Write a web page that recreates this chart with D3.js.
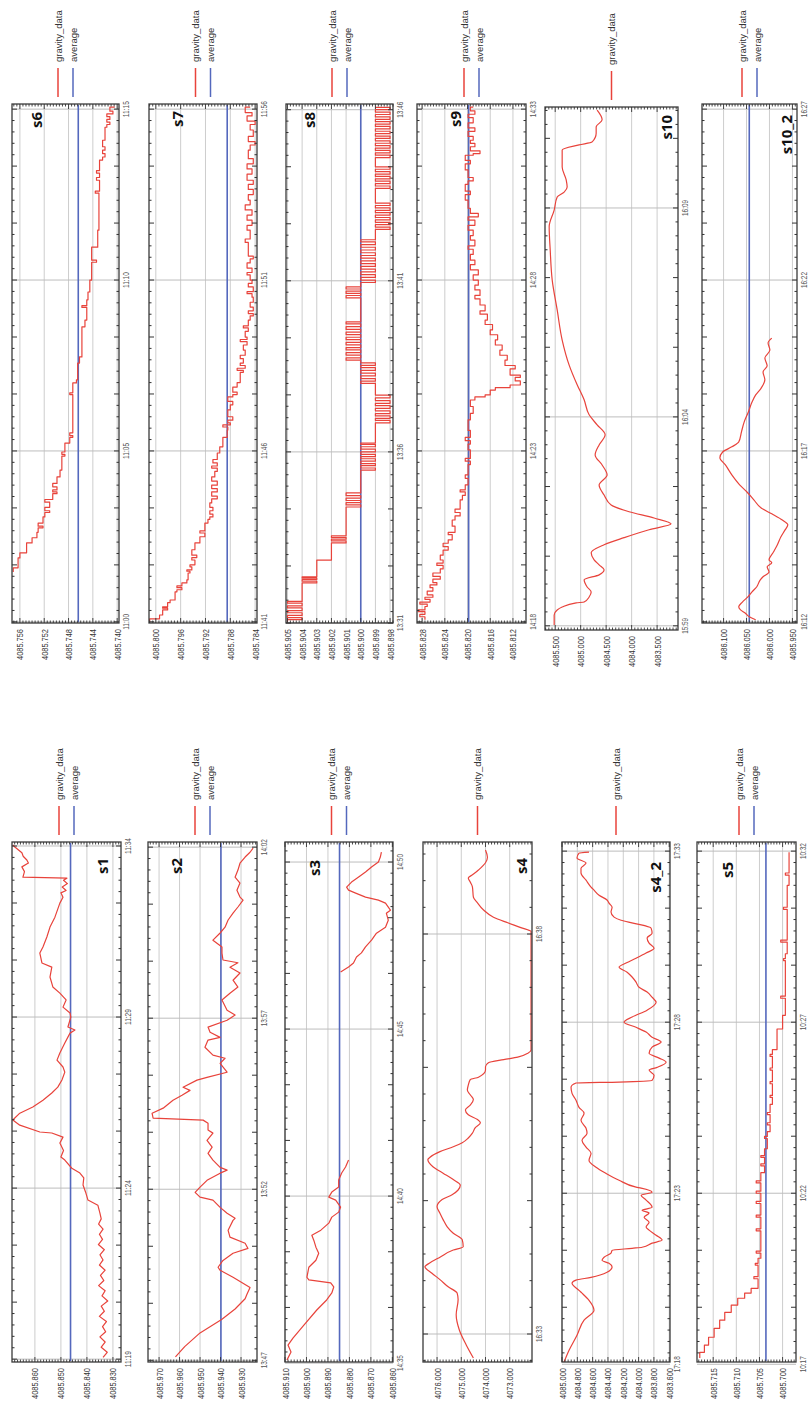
<!DOCTYPE html>
<html>
<head>
<meta charset="utf-8">
<script src="https://cdn.jsdelivr.net/npm/d3@7"></script>
<style>
  body { margin: 0; background: #fff; }
  svg { display: block; }
</style>
</head>
<body>
<div id="chart"></div>
<script>
// gravity readings per station: [minutes after the first time label, value]

const s1Times = ['11:19', '11:24', '11:29', '11:34'];
const s1Span = ['11:18:55', '11:34:07'];
const s1Ticks = [4085.860, 4085.850, 4085.840, 4085.830];
const s1Range = [4085.8269, 4085.8688];
const s1Average = 4085.8463;
const s1Gravity = [[0.05,4085.8338],[0.2,4085.8322],[0.35,4085.8345],[0.5,4085.8330],[0.65,4085.8350],[0.8,4085.8328],[0.95,4085.8340],[1.1,4085.8325],[1.25,4085.8352],[1.4,4085.8333],[1.55,4085.8345],[1.7,4085.8320],[1.85,4085.8342],[2.0,4085.8330],[2.15,4085.8355],[2.3,4085.8335],[2.45,4085.8348],[2.6,4085.8330],[2.75,4085.8352],[2.9,4085.8338],[3.05,4085.8350],[3.2,4085.8333],[3.35,4085.8356],[3.5,4085.8340],[3.65,4085.8352],[3.8,4085.8338],[3.95,4085.8355],[4.1,4085.8345],[4.27,4085.8350],[4.5,4085.8358],[4.65,4085.8396],[4.88,4085.8405],[5.09,4085.8415],[5.3,4085.8412],[5.44,4085.8427],[5.58,4085.8458],[5.82,4085.8485],[5.91,4085.8500],[6.1,4085.8490],[6.32,4085.8504],[6.49,4085.8492],[6.61,4085.8535],[6.64,4085.8581],[6.84,4085.8658],[6.99,4085.8685],[7.19,4085.8658],[7.37,4085.8608],[7.57,4085.8569],[7.78,4085.8535],[7.95,4085.8512],[8.16,4085.8496],[8.39,4085.8485],[8.54,4085.8492],[8.74,4085.8515],[8.95,4085.8504],[9.24,4085.8485],[9.53,4085.8465],[9.62,4085.8446],[9.71,4085.8473],[10.0,4085.8462],[10.12,4085.8465],[10.29,4085.8492],[10.5,4085.8480],[10.7,4085.8504],[10.88,4085.8531],[11.17,4085.8542],[11.46,4085.8535],[11.58,4085.8573],[11.87,4085.8581],[12.05,4085.8569],[12.34,4085.8554],[12.63,4085.8542],[12.92,4085.8523],[13.33,4085.8504],[13.5,4085.8492],[13.63,4085.8500],[13.7,4085.8480],[13.8,4085.8495],[13.9,4085.8475],[14.0,4085.8490],[14.06,4085.8477],[14.09,4085.8646],[14.25,4085.8640],[14.39,4085.8650],[14.5,4085.8625],[14.59,4085.8631],[14.7,4085.8645],[14.8,4085.8650],[14.97,4085.8677],[15.03,4085.8685]];

const s2Times = ['13:47', '13:52', '13:57', '14:02'];
const s2Span = ['13:46:57', '14:02:09'];
const s2Ticks = [4085.970, 4085.960, 4085.950, 4085.940, 4085.930];
const s2Range = [4085.9222, 4085.9754];
const s2Average = 4085.9398;
const s2Gravity = [[0.1,4085.9620],[0.4,4085.9575],[0.8,4085.9500],[1.2,4085.9393],[1.5,4085.9329],[1.8,4085.9280],[1.93,4085.9271],[2.13,4085.9256],[2.43,4085.9339],[2.63,4085.9402],[2.72,4085.9412],[2.92,4085.9388],[3.13,4085.9339],[3.27,4085.9266],[3.42,4085.9280],[3.60,4085.9354],[3.80,4085.9363],[4.09,4085.9339],[4.15,4085.9329],[4.30,4085.9368],[4.47,4085.9402],[4.68,4085.9437],[4.77,4085.9500],[4.91,4085.9524],[5.06,4085.9500],[5.26,4085.9466],[5.47,4085.9402],[5.56,4085.9368],[5.64,4085.9402],[5.85,4085.9437],[6.05,4085.9461],[6.23,4085.9441],[6.43,4085.9466],[6.64,4085.9437],[6.73,4085.9461],[6.93,4085.9461],[7.02,4085.9485],[7.08,4085.9729],[7.22,4085.9734],[7.37,4085.9680],[7.60,4085.9632],[7.75,4085.9588],[7.89,4085.9549],[7.98,4085.9583],[8.19,4085.9515],[8.27,4085.9466],[8.42,4085.9368],[8.68,4085.9402],[8.83,4085.9378],[8.92,4085.9437],[9.15,4085.9476],[9.36,4085.9461],[9.44,4085.9402],[9.59,4085.9451],[9.74,4085.9461],[9.94,4085.9368],[10.09,4085.9329],[10.23,4085.9368],[10.53,4085.9393],[10.73,4085.9354],[10.91,4085.9315],[11.11,4085.9339],[11.32,4085.9305],[11.49,4085.9354],[11.62,4085.9315],[11.70,4085.9388],[11.90,4085.9393],[12.08,4085.9393],[12.28,4085.9437],[12.49,4085.9402],[12.66,4085.9378],[12.87,4085.9363],[13.07,4085.9339],[13.25,4085.9315],[13.45,4085.9290],[13.54,4085.9305],[13.74,4085.9320],[13.95,4085.9305],[14.12,4085.9329],[14.33,4085.9315],[14.53,4085.9305],[14.71,4085.9280],[14.85,4085.9256],[14.97,4085.9241]];

const s3Times = ['14:35', '14:40', '14:45', '14:50'];
const s3Span = ['14:35:02', '14:50:36'];
const s3Ticks = [4085.910, 4085.900, 4085.890, 4085.880, 4085.870, 4085.860];
const s3Range = [4085.8597, 4085.9100];
const s3Average = 4085.8846;
const s3Gravity = [[0.09,4085.9091],[0.33,4085.9072],[0.54,4085.9086],[0.75,4085.9063],[1.14,4085.9012],[1.59,4085.8952],[1.89,4085.8906],[2.10,4085.8882],[2.28,4085.8873],[2.40,4085.8887],[2.49,4085.8989],[2.57,4085.8998],[2.87,4085.8989],[3.08,4085.8956],[3.29,4085.8943],[3.47,4085.8956],[3.68,4085.8966],[3.83,4085.8975],[3.98,4085.8933],[4.19,4085.8896],[4.37,4085.8882],[4.52,4085.8850],[4.67,4085.8841],[4.88,4085.8864],[4.97,4085.8896],[5.12,4085.8882],[5.27,4085.8850],[5.48,4085.8850],[5.69,4085.8836],[5.87,4085.8818],[6.08,4085.8804],[6.1,null],[11.71,4085.8841],[11.86,4085.8804],[11.98,4085.8781],[12.16,4085.8767],[12.28,4085.8744],[12.46,4085.8725],[12.66,4085.8697],[12.87,4085.8674],[13.05,4085.8632],[13.26,4085.8619],[13.47,4085.8628],[13.56,4085.8609],[13.77,4085.8632],[13.86,4085.8665],[13.95,4085.8725],[14.07,4085.8771],[14.16,4085.8804],[14.25,4085.8813],[14.40,4085.8790],[14.55,4085.8757],[14.70,4085.8725],[14.85,4085.8697],[15.0,4085.8665],[15.15,4085.8656],[15.30,4085.8651]];

const s4Times = ['16:33', '16:38'];
const s4Span = ['16:32:39', '16:39:09'];
const s4Ticks = [4076, 4075, 4074, 4073];
const s4Range = [4072.08, 4076.58];
const s4Average = null;
const s4Gravity = [[-0.30,4074.50],[-0.14,4074.79],[0.05,4075.08],[0.24,4075.21],[0.43,4075.13],[0.51,4075.17],[0.59,4075.54],[0.68,4075.88],[0.76,4076.21],[0.84,4076.50],[0.89,4076.29],[0.96,4075.88],[1.05,4075.33],[1.09,4074.92],[1.18,4074.96],[1.26,4075.33],[1.34,4075.58],[1.43,4075.75],[1.51,4075.88],[1.59,4076.00],[1.68,4075.79],[1.74,4075.38],[1.80,4075.13],[1.86,4075.04],[1.93,4075.33],[2.01,4075.75],[2.09,4076.17],[2.18,4076.38],[2.21,4076.29],[2.28,4075.88],[2.34,4075.33],[2.39,4074.96],[2.45,4074.71],[2.51,4074.54],[2.58,4074.42],[2.64,4074.21],[2.68,4074.33],[2.74,4074.71],[2.80,4074.83],[2.86,4074.63],[2.93,4074.50],[2.99,4074.63],[3.05,4074.75],[3.11,4074.71],[3.18,4074.63],[3.21,4074.29],[3.30,4074.00],[3.34,4074.00],[3.39,4073.88],[3.43,4073.25],[3.46,4072.67],[3.51,4072.25],[3.55,4072.12],[5.03,4072.12],[5.08,4072.54],[5.14,4073.08],[5.21,4073.67],[5.30,4074.08],[5.39,4074.33],[5.46,4074.50],[5.59,4074.54],[5.65,4074.63],[5.70,4074.71],[5.74,4074.54],[5.80,4074.29],[5.89,4074.00],[5.96,4073.92],[6.05,4074.00]];

const s4_2Times = ['17:18', '17:23', '17:28', '17:33'];
const s4_2Span = ['17:18:04', '17:33:16'];
const s4_2Ticks = [4085.0, 4084.8, 4084.6, 4084.4, 4084.2, 4084.0, 4083.8, 4083.6];
const s4_2Range = [4083.59, 4085.0];
const s4_2Average = null;
const s4_2Gravity = [[0.06,4084.974],[0.41,4084.908],[0.85,4084.804],[1.29,4084.712],[1.58,4084.582],[1.87,4084.647],[2.08,4084.739],[2.16,4084.778],[2.37,4084.869],[2.46,4084.817],[2.54,4084.621],[2.69,4084.412],[2.84,4084.346],[2.95,4084.386],[3.04,4084.477],[3.13,4084.451],[3.25,4084.360],[3.33,4084.346],[3.39,4084.085],[3.42,4083.954],[3.54,4083.824],[3.63,4083.693],[3.77,4083.771],[3.92,4083.863],[4.01,4083.902],[4.15,4083.863],[4.30,4083.928],[4.42,4083.863],[4.50,4083.954],[4.59,4083.824],[4.80,4083.902],[4.94,4083.967],[5.03,4083.824],[5.15,4083.967],[5.18,4084.033],[5.38,4084.255],[5.58,4084.425],[5.76,4084.556],[5.96,4084.647],[6.17,4084.621],[6.35,4084.686],[6.55,4084.739],[6.75,4084.673],[6.90,4084.686],[7.13,4084.752],[7.34,4084.712],[7.51,4084.778],[7.72,4084.817],[7.92,4084.869],[8.10,4084.882],[8.22,4084.817],[8.25,4084.255],[8.30,4083.824],[8.45,4083.798],[8.60,4083.863],[8.68,4083.758],[8.83,4083.641],[8.95,4083.732],[9.09,4083.863],[9.27,4083.824],[9.42,4083.706],[9.56,4083.824],[9.71,4083.902],[9.85,4084.033],[10.0,4084.190],[10.15,4084.085],[10.35,4083.889],[10.58,4083.771],[10.73,4083.824],[10.88,4083.889],[11.02,4083.994],[11.17,4084.033],[11.32,4084.085],[11.46,4084.150],[11.61,4084.255],[11.73,4084.164],[11.87,4084.033],[12.02,4083.902],[12.16,4083.798],[12.31,4083.863],[12.46,4083.889],[12.60,4083.824],[12.75,4083.837],[12.89,4084.059],[12.98,4084.229],[13.07,4084.320],[13.22,4084.360],[13.36,4084.346],[13.48,4084.386],[13.57,4084.412],[13.71,4084.516],[13.86,4084.582],[13.95,4084.621],[14.15,4084.686],[14.36,4084.752],[14.50,4084.752],[14.65,4084.686],[14.80,4084.804],[14.94,4084.778],[14.97,4084.647]];

const s5Times = ['10:17', '10:22', '10:27', '10:32'];
const s5Span = ['10:17:04', '10:32:16'];
const s5Ticks = [4085.715, 4085.710, 4085.705, 4085.700];
const s5Range = [4085.6971, 4085.7185];
const s5Average = 4085.7036;
const s5Gravity = [[0.18,4085.7179],[0.35,4085.7169],[0.56,4085.7160],[0.79,4085.7148],[1.05,4085.7136],[1.29,4085.7125],[1.52,4085.7111],[1.73,4085.7097],[1.93,4085.7082],[2.08,4085.7068],[2.22,4085.7053],[2.50,4085.7062],[2.56,4085.7053],[2.90,4085.7059],[2.95,4085.7053],[3.10,4085.7047],[3.25,4085.7057],[3.31,4085.7047],[3.90,4085.7057],[3.96,4085.7047],[4.30,4085.7057],[4.36,4085.7047],[4.70,4085.7057],[4.76,4085.7047],[5.00,4085.7057],[5.06,4085.7047],[5.30,4085.7057],[5.36,4085.7047],[5.60,4085.7039],[5.80,4085.7047],[5.86,4085.7039],[6.05,4085.7047],[6.10,4085.7039],[6.30,4085.7033],[6.60,4085.7039],[6.66,4085.7033],[6.80,4085.7027],[7.00,4085.7033],[7.06,4085.7027],[7.30,4085.7033],[7.36,4085.7027],[7.60,4085.7022],[7.80,4085.7027],[7.86,4085.7022],[8.20,4085.7027],[8.26,4085.7022],[8.60,4085.7027],[8.66,4085.7022],[9.00,4085.7027],[9.06,4085.7022],[9.20,4085.7012],[9.80,4085.7000],[10.20,4085.6994],[10.70,4085.7004],[10.76,4085.6994],[11.80,4085.6998],[11.86,4085.6994],[12.00,4085.6990],[12.34,4085.7004],[12.40,4085.6990],[13.30,4085.6998],[13.36,4085.6990],[14.00,4085.6986],[14.30,4085.6994],[14.36,4085.6986],[14.97,4085.6986]];

const s6Times = ['11:00', '11:05', '11:10', '11:15'];
const s6Span = ['10:59:58', '11:15:09'];
const s6Ticks = [4085.756, 4085.752, 4085.748, 4085.744, 4085.740];
const s6Range = [4085.7397, 4085.7573];
const s6Average = 4085.7464;
const s6Gravity = [[1.46,4085.7571],[1.58,4085.7563],[1.87,4085.7560],[2.02,4085.7549],[2.31,4085.7540],[2.46,4085.7532],[2.62,4085.7530],[2.75,4085.7522],[2.80,4085.7530],[2.89,4085.7522],[3.07,4085.7519],[3.20,4085.7511],[3.25,4085.7519],[3.35,4085.7511],[3.50,4085.7519],[3.58,4085.7506],[3.75,4085.7499],[3.80,4085.7506],[3.86,4085.7499],[3.95,4085.7506],[4.05,4085.7499],[4.24,4085.7494],[4.44,4085.7491],[4.85,4085.7486],[4.90,4085.7491],[4.97,4085.7486],[5.23,4085.7478],[5.40,4085.7473],[5.45,4085.7478],[5.53,4085.7473],[6.65,4085.7478],[6.70,4085.7473],[6.99,4085.7467],[7.08,4085.7465],[7.57,4085.7462],[7.75,4085.7458],[8.63,4085.7453],[8.83,4085.7450],[9.20,4085.7458],[9.25,4085.7450],[9.42,4085.7448],[9.65,4085.7445],[10.0,4085.7442],[10.52,4085.7434],[10.58,4085.7442],[10.96,4085.7432],[11.46,4085.7430],[12.54,4085.7436],[12.60,4085.7429],[12.92,4085.7434],[13.0,4085.7429],[13.13,4085.7434],[13.20,4085.7429],[13.51,4085.7424],[13.60,4085.7420],[13.70,4085.7424],[13.80,4085.7420],[13.90,4085.7424],[14.09,4085.7420],[14.47,4085.7417],[14.55,4085.7412],[14.62,4085.7417],[14.70,4085.7412],[14.78,4085.7417],[14.86,4085.7407],[14.94,4085.7412],[15.06,4085.7404]];

const s7Times = ['11:41', '11:46', '11:51', '11:56'];
const s7Span = ['11:40:58', '11:56:09'];
const s7Ticks = [4085.800, 4085.796, 4085.792, 4085.788, 4085.784];
const s7Range = [4085.7837, 4085.8011];
const s7Average = 4085.7885;
const s7Gravity = [[0.0,4085.8010],[0.09,4085.7994],[0.20,4085.7989],[0.35,4085.7981],[0.40,4085.7989],[0.44,4085.7981],[0.56,4085.7977],[0.64,4085.7969],[0.88,4085.7966],[0.94,4085.7958],[1.0,4085.7966],[1.05,4085.7958],[1.14,4085.7950],[1.23,4085.7948],[1.43,4085.7945],[1.48,4085.7950],[1.52,4085.7942],[1.61,4085.7945],[1.67,4085.7937],[1.81,4085.7942],[1.88,4085.7934],[1.95,4085.7942],[2.11,4085.7937],[2.31,4085.7929],[2.49,4085.7921],[2.60,4085.7929],[2.66,4085.7921],[2.89,4085.7916],[3.0,4085.7913],[3.07,4085.7908],[3.15,4085.7913],[3.25,4085.7908],[3.35,4085.7913],[3.48,4085.7910],[3.60,4085.7901],[3.68,4085.7910],[3.80,4085.7901],[3.90,4085.7910],[4.0,4085.7901],[4.12,4085.7910],[4.24,4085.7905],[4.40,4085.7901],[4.50,4085.7910],[4.56,4085.7901],[4.65,4085.7908],[4.75,4085.7901],[4.94,4085.7897],[5.12,4085.7892],[5.40,4085.7885],[5.61,4085.7884],[5.70,4085.7892],[5.76,4085.7880],[5.82,4085.7884],[5.90,4085.7876],[6.0,4085.7884],[6.20,4085.7880],[6.35,4085.7876],[6.45,4085.7884],[6.58,4085.7876],[6.65,4085.7869],[6.72,4085.7876],[6.87,4085.7869],[7.0,4085.7864],[7.30,4085.7859],[7.36,4085.7869],[7.42,4085.7856],[7.50,4085.7864],[7.57,4085.7859],[7.70,4085.7864],[7.80,4085.7856],[7.95,4085.7859],[8.10,4085.7853],[8.20,4085.7864],[8.26,4085.7853],[8.33,4085.7856],[8.50,4085.7851],[8.60,4085.7859],[8.66,4085.7851],[8.83,4085.7848],[8.95,4085.7843],[9.02,4085.7851],[9.10,4085.7843],[9.21,4085.7848],[9.35,4085.7843],[9.50,4085.7845],[9.60,4085.7853],[9.66,4085.7843],[9.80,4085.7851],[9.90,4085.7845],[10.0,4085.7848],[10.15,4085.7853],[10.22,4085.7845],[10.35,4085.7853],[10.5,4085.7848],[10.62,4085.7843],[10.70,4085.7851],[11.1,4085.7856],[11.2,4085.7848],[11.46,4085.7853],[11.6,4085.7845],[11.75,4085.7853],[11.9,4085.7845],[12.05,4085.7856],[12.2,4085.7848],[12.34,4085.7851],[12.5,4085.7843],[12.65,4085.7851],[12.8,4085.7843],[12.92,4085.7853],[13.1,4085.7845],[13.25,4085.7853],[13.4,4085.7843],[13.55,4085.7851],[13.8,4085.7848],[13.95,4085.7840],[14.05,4085.7851],[14.2,4085.7843],[14.39,4085.7848],[14.55,4085.7840],[14.65,4085.7853],[14.8,4085.7845],[14.9,4085.7856],[15.06,4085.7848]];

const s8Times = ['13:31', '13:36', '13:41', '13:46'];
const s8Span = ['13:31:00', '13:46:10'];
const s8Ticks = [4085.905, 4085.904, 4085.903, 4085.902, 4085.901, 4085.900, 4085.899, 4085.898];
const s8Range = [4085.8978, 4085.9051];
const s8Average = 4085.900;
const s8Gravity = [[0.03,4085.905],[0.1,4085.904],[0.16,4085.905],[0.22,4085.904],[0.3,4085.905],[0.36,4085.904],[0.44,4085.905],[0.5,4085.904],[0.58,4085.905],[0.63,4085.904],[1.17,4085.903],[1.22,4085.904],[1.27,4085.903],[1.31,4085.904],[1.35,4085.903],[1.84,4085.902],[2.34,4085.901],[2.4,4085.902],[2.45,4085.901],[2.5,4085.902],[2.55,4085.901],[3.39,4085.900],[3.45,4085.901],[3.52,4085.900],[3.58,4085.901],[3.65,4085.900],[3.72,4085.901],[3.8,4085.900],[4.47,4085.899],[4.53,4085.900],[4.6,4085.899],[4.66,4085.900],[4.73,4085.899],[4.8,4085.900],[4.86,4085.899],[4.93,4085.900],[5.0,4085.899],[5.08,4085.900],[5.15,4085.899],[5.22,4085.900],[5.26,4085.899],[5.85,4085.898],[5.92,4085.899],[5.98,4085.898],[6.05,4085.899],[6.12,4085.898],[6.2,4085.899],[6.27,4085.898],[6.35,4085.899],[6.42,4085.898],[6.5,4085.899],[6.58,4085.898],[6.66,4085.899],[7.0,4085.900],[7.07,4085.899],[7.14,4085.900],[7.22,4085.899],[7.3,4085.900],[7.38,4085.899],[7.46,4085.900],[7.53,4085.899],[7.6,4085.900],[7.68,4085.901],[7.75,4085.900],[7.83,4085.901],[7.9,4085.900],[7.98,4085.901],[8.05,4085.900],[8.13,4085.901],[8.2,4085.900],[8.28,4085.901],[8.35,4085.900],[8.43,4085.901],[8.5,4085.900],[8.58,4085.901],[8.66,4085.900],[8.74,4085.901],[8.8,4085.900],[9.5,4085.901],[9.57,4085.900],[9.63,4085.901],[9.7,4085.900],[9.76,4085.901],[9.82,4085.900],[9.95,4085.899],[10.02,4085.900],[10.1,4085.899],[10.18,4085.900],[10.26,4085.899],[10.34,4085.900],[10.42,4085.899],[10.5,4085.900],[10.58,4085.899],[10.66,4085.900],[10.74,4085.899],[10.82,4085.900],[10.9,4085.899],[10.98,4085.900],[11.06,4085.899],[11.14,4085.900],[11.2,4085.899],[11.5,4085.898],[11.57,4085.899],[11.64,4085.898],[11.71,4085.899],[11.78,4085.898],[11.85,4085.899],[11.92,4085.898],[11.99,4085.899],[12.06,4085.898],[12.13,4085.899],[12.2,4085.898],[12.27,4085.899],[12.7,4085.898],[12.77,4085.899],[12.84,4085.898],[12.91,4085.899],[12.98,4085.898],[13.05,4085.899],[13.12,4085.898],[13.19,4085.899],[13.26,4085.898],[13.33,4085.899],[13.6,4085.898],[13.67,4085.899],[13.74,4085.898],[13.81,4085.899],[13.88,4085.898],[13.95,4085.899],[14.02,4085.898],[14.09,4085.899],[14.16,4085.898],[14.23,4085.899],[14.3,4085.898],[14.37,4085.899],[14.44,4085.898],[14.51,4085.899],[14.58,4085.898],[14.65,4085.899],[14.72,4085.898],[14.79,4085.899],[14.86,4085.898],[14.93,4085.899],[15.0,4085.898],[15.07,4085.899]];

const s9Times = ['14:18', '14:23', '14:28', '14:33'];
const s9Span = ['14:17:58', '14:33:09'];
const s9Ticks = [4085.828, 4085.824, 4085.820, 4085.816, 4085.812];
const s9Range = [4085.8097, 4085.8289];
const s9Average = 4085.8198;
const s9Gravity = [[0.06,4085.8275],[0.15,4085.8284],[0.22,4085.8275],[0.30,4085.8287],[0.35,4085.8275],[0.45,4085.8271],[0.52,4085.8284],[0.58,4085.8266],[0.66,4085.8275],[0.72,4085.8261],[0.79,4085.8271],[0.9,4085.8261],[1.0,4085.8266],[1.08,4085.8254],[1.15,4085.8261],[1.25,4085.8248],[1.33,4085.8261],[1.43,4085.8248],[1.55,4085.8243],[1.65,4085.8254],[1.72,4085.8243],[1.81,4085.8248],[1.95,4085.8243],[2.1,4085.8234],[2.2,4085.8243],[2.3,4085.8234],[2.4,4085.8227],[2.55,4085.8234],[2.62,4085.8222],[2.8,4085.8227],[2.98,4085.8222],[3.1,4085.8213],[3.2,4085.8222],[3.3,4085.8213],[3.57,4085.8209],[3.7,4085.8204],[3.8,4085.8213],[3.86,4085.8204],[4.01,4085.8199],[4.2,4085.8204],[4.3,4085.8199],[4.6,4085.8195],[4.7,4085.8204],[4.78,4085.8195],[5.03,4085.8199],[5.2,4085.8195],[5.3,4085.8204],[5.4,4085.8195],[5.6,4085.8199],[5.91,4085.8195],[6.1,4085.8190],[6.3,4085.8195],[6.49,4085.8187],[6.58,4085.8169],[6.64,4085.8160],[6.78,4085.8151],[6.85,4085.8125],[6.93,4085.8107],[7.05,4085.8116],[7.15,4085.8107],[7.22,4085.8125],[7.4,4085.8116],[7.5,4085.8134],[7.66,4085.8130],[7.8,4085.8143],[7.95,4085.8139],[8.1,4085.8151],[8.25,4085.8147],[8.4,4085.8160],[8.54,4085.8156],[8.7,4085.8169],[8.83,4085.8165],[9.0,4085.8178],[9.1,4085.8169],[9.27,4085.8178],[9.45,4085.8187],[9.55,4085.8178],[9.71,4085.8187],[9.85,4085.8181],[10.0,4085.8190],[10.15,4085.8181],[10.3,4085.8195],[10.45,4085.8187],[10.58,4085.8195],[10.75,4085.8190],[10.9,4085.8199],[11.0,4085.8187],[11.17,4085.8195],[11.3,4085.8190],[11.46,4085.8199],[11.6,4085.8187],[11.75,4085.8199],[11.85,4085.8181],[11.95,4085.8195],[12.1,4085.8199],[12.34,4085.8204],[12.5,4085.8195],[12.6,4085.8204],[12.8,4085.8199],[12.9,4085.8190],[13.0,4085.8199],[13.22,4085.8204],[13.4,4085.8195],[13.5,4085.8204],[13.65,4085.8190],[13.7,4085.8178],[13.78,4085.8195],[13.9,4085.8187],[14.0,4085.8195],[14.09,4085.8190],[14.2,4085.8199],[14.35,4085.8187],[14.45,4085.8199],[14.6,4085.8190],[14.75,4085.8199],[14.85,4085.8187],[14.95,4085.8195],[15.06,4085.8190]];

const s10Times = ['15:59', '16:04', '16:09'];
const s10Span = ['15:58:54', '16:11:25'];
const s10Ticks = [4085.5, 4085.0, 4084.5, 4084.0, 4083.5];
const s10Range = [4083.09, 4085.70];
const s10Average = null;
const s10Gravity = [[0.02,4085.520],[0.26,4085.520],[0.38,4085.461],[0.45,4085.363],[0.55,4085.088],[0.57,4084.932],[0.69,4084.834],[0.81,4084.794],[0.93,4084.873],[1.10,4084.932],[1.22,4084.638],[1.34,4084.540],[1.46,4084.638],[1.58,4084.736],[1.75,4084.794],[1.94,4084.540],[2.11,4084.148],[2.30,4083.658],[2.44,4083.226],[2.58,4083.560],[2.73,4084.050],[2.89,4084.402],[3.13,4084.540],[3.37,4084.638],[3.61,4084.481],[3.85,4084.579],[4.09,4084.716],[4.33,4084.638],[4.57,4084.520],[4.81,4084.677],[5.05,4084.834],[5.41,4084.932],[5.77,4085.069],[6.24,4085.226],[6.84,4085.363],[7.56,4085.461],[8.28,4085.559],[9.0,4085.598],[9.55,4085.618],[9.95,4085.520],[10.26,4085.461],[10.38,4085.324],[10.50,4085.265],[10.67,4085.284],[10.98,4085.363],[11.39,4085.363],[11.51,4085.030],[11.58,4084.775],[11.79,4084.696],[11.94,4084.696],[12.11,4084.579],[12.34,4084.677]];

const s10_2Times = ['16:12', '16:17', '16:22', '16:27'];
const s10_2Span = ['16:11:58', '16:27:09'];
const s10_2Ticks = [4086.100, 4086.050, 4086.000, 4085.950];
const s10_2Range = [4085.940, 4086.147];
const s10_2Average = 4086.044;
const s10_2Gravity = [[0.06,4086.030],[0.15,4086.044],[0.26,4086.053],[0.35,4086.063],[0.44,4086.067],[0.58,4086.059],[0.73,4086.047],[0.88,4086.038],[1.02,4086.028],[1.23,4086.020],[1.32,4086.014],[1.46,4086.001],[1.61,4086.005],[1.73,4085.995],[1.81,4086.001],[2.05,4085.991],[2.25,4085.983],[2.49,4085.975],[2.69,4085.966],[2.84,4085.960],[2.98,4085.972],[3.16,4085.995],[3.33,4086.018],[3.57,4086.034],[3.80,4086.049],[4.01,4086.065],[4.30,4086.082],[4.59,4086.096],[4.80,4086.108],[4.97,4086.102],[5.12,4086.082],[5.26,4086.067],[5.56,4086.061],[5.85,4086.055],[6.14,4086.046],[6.43,4086.038],[6.64,4086.030],[6.84,4086.018],[7.08,4086.010],[7.31,4086.014],[7.49,4086.005],[7.72,4086.010],[7.95,4085.999],[8.16,4086.003],[8.30,4085.995]];

// ---- page layout (unrotated frame, 1405 wide x 811 tall) ----
const W = 811, H = 1405;
const RED = '#e8433b', BLUE = '#5468bd';

const panels = [
  {id: 's1',    box: [43, 12, 520, 109],  titleDy: 96,  inset: 16, curve: d3.curveLinear},
  {id: 's2',    box: [43, 148, 520, 109], titleDy: 34,  inset: 16, curve: d3.curveLinear},
  {id: 's3',    box: [43, 285, 520, 108], titleDy: 35,  inset: 18, curve: d3.curveLinear},
  {id: 's4',    box: [43, 423, 520, 109], titleDy: 104, inset: 16, curve: d3.curveMonotoneX},
  {id: 's4_2',  box: [43, 562, 520, 108], titleDy: 99,  inset: 20, curve: d3.curveMonotoneX},
  {id: 's5',    box: [43, 697, 520, 99],  titleDy: 36,  inset: 20, curve: d3.curveStepAfter},
  {id: 's6',    box: [782, 12, 519, 107], titleDy: 30,  inset: 8,  curve: d3.curveStepAfter},
  {id: 's7',    box: [782, 149, 519, 108], titleDy: 34, inset: 7,  curve: d3.curveStepAfter},
  {id: 's8',    box: [782, 286, 519, 107], titleDy: 29, inset: 8,  curve: d3.curveStepAfter},
  {id: 's9',    box: [782, 417, 519, 109], titleDy: 44, inset: 7,  curve: d3.curveStepAfter},
  {id: 's10',   box: [775, 545, 523, 133], titleDy: 127, inset: 8, curve: d3.curveMonotoneX},
  {id: 's10_2', box: [782, 702, 519, 95],  titleDy: 90, inset: 11, curve: d3.curveMonotoneX}
];

const series = {
  s1: {times: s1Times, span: s1Span, ticks: s1Ticks, range: s1Range, avg: s1Average, data: s1Gravity},
  s2: {times: s2Times, span: s2Span, ticks: s2Ticks, range: s2Range, avg: s2Average, data: s2Gravity},
  s3: {times: s3Times, span: s3Span, ticks: s3Ticks, range: s3Range, avg: s3Average, data: s3Gravity},
  s4: {times: s4Times, span: s4Span, ticks: s4Ticks, range: s4Range, avg: s4Average, data: s4Gravity},
  s4_2: {times: s4_2Times, span: s4_2Span, ticks: s4_2Ticks, range: s4_2Range, avg: s4_2Average, data: s4_2Gravity},
  s5: {times: s5Times, span: s5Span, ticks: s5Ticks, range: s5Range, avg: s5Average, data: s5Gravity},
  s6: {times: s6Times, span: s6Span, ticks: s6Ticks, range: s6Range, avg: s6Average, data: s6Gravity},
  s7: {times: s7Times, span: s7Span, ticks: s7Ticks, range: s7Range, avg: s7Average, data: s7Gravity},
  s8: {times: s8Times, span: s8Span, ticks: s8Ticks, range: s8Range, avg: s8Average, data: s8Gravity},
  s9: {times: s9Times, span: s9Span, ticks: s9Ticks, range: s9Range, avg: s9Average, data: s9Gravity},
  s10: {times: s10Times, span: s10Span, ticks: s10Ticks, range: s10Range, avg: s10Average, data: s10Gravity},
  s10_2: {times: s10_2Times, span: s10_2Span, ticks: s10_2Ticks, range: s10_2Range, avg: s10_2Average, data: s10_2Gravity}
};

const toDate = s => {
  const p = s.split(':').map(Number);
  return new Date(2000, 0, 1, p[0], p[1], p[2] || 0);
};
const fmtVal = d3.format('.3f');
const AXIS_FONT = "'Liberation Sans', Arial, sans-serif";

const svg = d3.select('#chart').append('svg')
  .attr('width', W)
  .attr('height', H);

svg.append('rect').attr('width', W).attr('height', H).attr('fill', '#fff');

// the page is printed sideways: draw it upright, then turn it a quarter left
const page = svg.append('g')
  .attr('transform', `translate(0,${H}) rotate(-90)`);

panels.forEach(p => {
  const s = series[p.id];
  const [bx, by, bw, bh] = p.box;
  const base = toDate(s.times[0]);
  const x = d3.scaleTime().domain(s.span.map(toDate)).range([bx, bx + bw]);
  const y = d3.scaleLinear().domain(s.range).range([by + bh, by]);
  const g = page.append('g');

  g.append('clipPath').attr('id', 'clip-' + p.id)
    .append('rect').attr('x', bx).attr('y', by).attr('width', bw).attr('height', bh);

  // grid
  g.append('g').selectAll('line').data(s.ticks).join('line')
    .attr('x1', bx).attr('x2', bx + bw)
    .attr('y1', d => y(d)).attr('y2', d => y(d))
    .attr('stroke', '#cdcdcd').attr('stroke-width', 1);
  g.append('g').selectAll('line').data(s.times.map(toDate)).join('line')
    .attr('x1', d => x(d)).attr('x2', d => x(d))
    .attr('y1', by).attr('y2', by + bh)
    .attr('stroke', '#bdbdbd').attr('stroke-width', 1);

  // average
  if (s.avg !== null) {
    g.append('line')
      .attr('x1', bx + 1).attr('x2', bx + bw - 1)
      .attr('y1', y(s.avg)).attr('y2', y(s.avg))
      .attr('stroke', BLUE).attr('stroke-width', 1.6);
  }

  // gravity trace
  const line = d3.line()
    .defined(d => d[1] !== null)
    .x(d => x(new Date(+base + d[0] * 60000)))
    .y(d => y(d[1]))
    .curve(p.curve);
  g.append('path').datum(s.data)
    .attr('clip-path', `url(#clip-${p.id})`)
    .attr('fill', 'none')
    .attr('stroke', RED)
    .attr('stroke-width', 1.2)
    .attr('stroke-linejoin', 'round')
    .attr('d', line);

  // frame
  g.append('rect')
    .attr('x', bx).attr('y', by).attr('width', bw).attr('height', bh)
    .attr('fill', 'none').attr('stroke', '#3a3a3a').attr('stroke-width', 1.3);

  // time ticks every 20 s, longer every 100 s
  const [d0, d1] = x.domain();
  const kMin = Math.ceil((d0 - base) / 20000), kMax = Math.floor((d1 - base) / 20000);
  const tTicks = d3.range(kMin, kMax + 1).map(k => ({t: new Date(+base + k * 20000), major: k % 5 === 0}));
  const tg = g.append('g').attr('stroke', '#333').attr('stroke-width', 1);
  tg.selectAll('.tt').data(tTicks).join('line')
    .attr('x1', d => x(d.t)).attr('x2', d => x(d.t))
    .attr('y1', by).attr('y2', d => by + (d.major ? 5 : 2.5));
  tg.selectAll('.tb').data(tTicks).join('line')
    .attr('x1', d => x(d.t)).attr('x2', d => x(d.t))
    .attr('y1', by + bh).attr('y2', d => by + bh - (d.major ? 5 : 2.5));

  // value ticks on both sides
  const step = Math.abs(s.ticks[0] - s.ticks[1]);
  const pxStep = Math.abs(y(s.ticks[0]) - y(s.ticks[1]));
  const n = Math.max(2, Math.round(pxStep / 3));
  const sub = step / n;
  const jMin = Math.ceil((s.range[0] - s.ticks[0]) / sub - 1e-6);
  const jMax = Math.floor((s.range[1] - s.ticks[0]) / sub + 1e-6);
  const vTicks = d3.range(jMin, jMax + 1).map(j => ({v: s.ticks[0] + j * sub, major: j % n === 0}));
  const vg = g.append('g').attr('stroke', '#333').attr('stroke-width', 0.9);
  vg.selectAll('.vl').data(vTicks).join('line')
    .attr('y1', d => y(d.v)).attr('y2', d => y(d.v))
    .attr('x1', bx).attr('x2', d => bx + (d.major ? 5 : 2.5));
  vg.selectAll('.vr').data(vTicks).join('line')
    .attr('y1', d => y(d.v)).attr('y2', d => y(d.v))
    .attr('x1', bx + bw).attr('x2', d => bx + bw - (d.major ? 5 : 2.5));

  // value labels
  g.append('g').selectAll('text').data(s.ticks).join('text')
    .attr('x', bx - 6)
    .attr('y', d => y(d))
    .attr('text-anchor', 'end')
    .attr('dominant-baseline', 'central')
    .attr('font-family', AXIS_FONT)
    .attr('font-size', 9.5)
    .attr('textLength', 31)
    .attr('lengthAdjust', 'spacingAndGlyphs')
    .attr('fill', '#333')
    .text(d => fmtVal(d));

  // time labels
  g.append('g').selectAll('text').data(s.times).join('text')
    .attr('x', d => x(toDate(d)))
    .attr('y', by + bh + 10)
    .attr('text-anchor', 'middle')
    .attr('font-family', AXIS_FONT)
    .attr('font-size', 9.5)
    .attr('textLength', 16)
    .attr('lengthAdjust', 'spacingAndGlyphs')
    .attr('fill', '#555')
    .text(d => d);

  // title
  g.append('text')
    .attr('x', bx + bw - p.inset)
    .attr('y', by + p.titleDy)
    .attr('text-anchor', 'end')
    .attr('font-family', "'Open Sans', 'DejaVu Sans', sans-serif")
    .attr('font-weight', 700)
    .attr('font-size', 15)
    .attr('fill', '#111')
    .text(p.id);

  // legend to the right of the plot
  const entries = [{name: 'gravity_data', color: RED}];
  if (s.avg !== null) entries.push({name: 'average', color: BLUE});
  const cy = by + bh / 2;
  const lx0 = bx + bw + 7, lx1 = lx0 + 29;
  const lg = g.append('g').selectAll('g').data(entries).join('g')
    .attr('transform', (d, i) => `translate(0,${cy + (i - (entries.length - 1) / 2) * 15})`);
  lg.append('line')
    .attr('x1', lx0).attr('x2', lx1)
    .attr('stroke', d => d.color).attr('stroke-width', 1.5);
  lg.append('text')
    .attr('x', lx1 + 6)
    .attr('dominant-baseline', 'central')
    .attr('font-family', AXIS_FONT)
    .attr('font-size', 9.5)
    .attr('fill', '#333')
    .text(d => d.name);
});
</script>
</body>
</html>
